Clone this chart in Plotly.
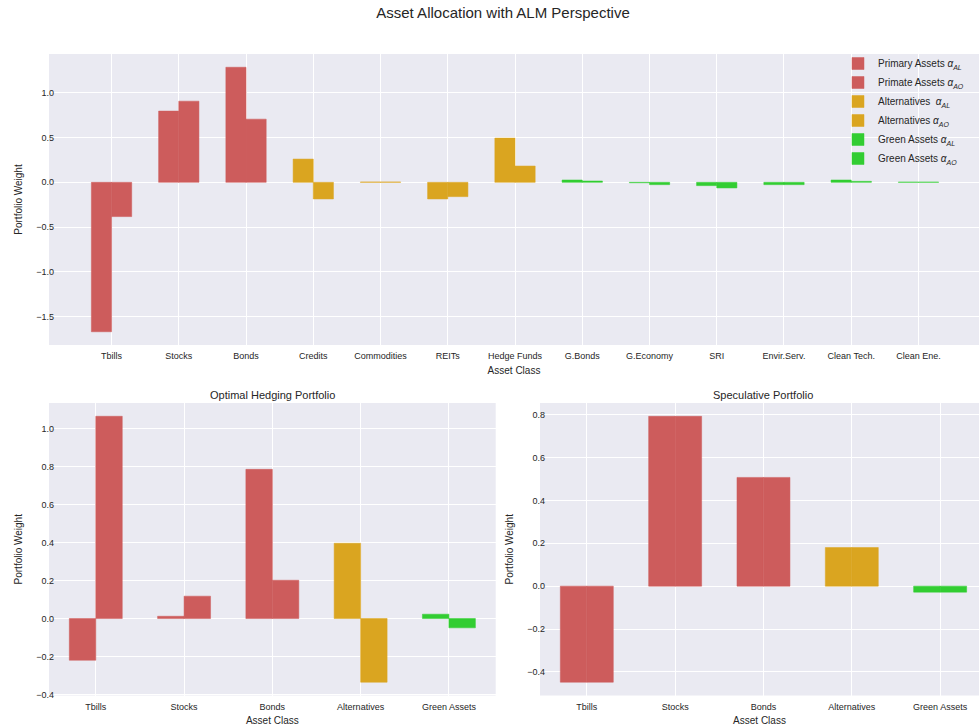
import plotly.graph_objects as go

# ---------------- data ----------------
top_categories = ["Tbills", "Stocks", "Bonds", "Credits", "Commodities", "REITs",
                  "Hedge Funds", "G.Bonds", "G.Economy", "SRI", "Envir.Serv.",
                  "Clean Tech.", "Clean Ene."]

primary_cats = ["Tbills", "Stocks", "Bonds"]
primary_al = [-1.67, 0.796, 1.286]
primary_ao = [-0.383, 0.907, 0.706]

alt_cats = ["Credits", "Commodities", "REITs", "Hedge Funds"]
alt_al = [0.26, 0.004, -0.186, 0.494]
alt_ao = [-0.186, 0.004, -0.16, 0.182]

green_cats = ["G.Bonds", "G.Economy", "SRI", "Envir.Serv.", "Clean Tech.", "Clean Ene."]
green_al = [0.026, -0.005, -0.037, -0.026, 0.026, 0.003]
green_ao = [0.015, -0.026, -0.063, -0.026, 0.011, 0.003]

group_categories = ["Tbills", "Stocks", "Bonds", "Alternatives", "Green Assets"]
hedge_al = [-0.22, 0.012, 0.787, 0.397, 0.023]
hedge_ao = [1.067, 0.118, 0.202, -0.336, -0.049]
spec_al = [-0.448, 0.792, 0.507, 0.18, -0.028]
spec_ao = [-0.448, 0.792, 0.507, 0.18, -0.028]

legend_names = [
    "Primary Assets <i>α<sub>AL</sub></i>",
    "Primate Assets <i>α<sub>AO</sub></i>",
    "Alternatives  <i>α<sub>AL</sub></i>",
    "Alternatives <i>α<sub>AO</sub></i>",
    "Green Assets <i>α<sub>AL</sub></i>",
    "Green Assets <i>α<sub>AO</sub></i>",
]

RED = "#CD5C5C"
GOLD = "#DAA520"
GREEN = "#32CD32"
group_colors = [RED, RED, RED, GOLD, GREEN]

# ---------------- figure ----------------
W, H = 979, 727
FONT = "Liberation Sans, Arial, sans-serif"
TXT = "#262626"
BG = "#EAEAF2"

fig = go.Figure()

W_BAR = 0.3

def add_pair(cats, al, ao, color, name_al, name_ao, xa, ya, showlegend=True, colors=None):
    c = colors if colors is not None else color
    fig.add_trace(go.Bar(x=cats, y=al, name=name_al,
                         marker=dict(color=c, line=dict(width=0.5, color=c)),
                         width=W_BAR, offset=-W_BAR, xaxis=xa, yaxis=ya, showlegend=showlegend))
    fig.add_trace(go.Bar(x=cats, y=ao, name=name_ao,
                         marker=dict(color=c, line=dict(width=0.5, color=c)),
                         width=W_BAR, offset=0, xaxis=xa, yaxis=ya, showlegend=showlegend))

add_pair(primary_cats, primary_al, primary_ao, RED, legend_names[0], legend_names[1], "x", "y")
add_pair(alt_cats, alt_al, alt_ao, GOLD, legend_names[2], legend_names[3], "x", "y")
add_pair(green_cats, green_al, green_ao, GREEN, legend_names[4], legend_names[5], "x", "y")
add_pair(group_categories, hedge_al, hedge_ao, None, "hedge AL", "hedge AO", "x2", "y2",
         showlegend=False, colors=group_colors)
add_pair(group_categories, spec_al, spec_ao, None, "spec AL", "spec AO", "x3", "y3",
         showlegend=False, colors=group_colors)

def px_x(p):
    return p / W

def px_y(p):
    return 1 - p / H

tickfont = dict(family=FONT, size=9, color=TXT)
titlefont = dict(family=FONT, size=10, color=TXT)

def xaxis(domain, anchor, cats, rng):
    return dict(domain=domain, anchor=anchor, type="category", categoryorder="array",
                categoryarray=cats, range=rng, showgrid=True, gridcolor="white", gridwidth=1,
                showline=False, zeroline=False, ticks="", tickfont=tickfont,
                ticklabelstandoff=4,
                title=dict(text="Asset Class", font=titlefont, standoff=6), automargin=False,
                fixedrange=True)

def yaxis(domain, position, rng, dtick):
    return dict(domain=domain, anchor="free", position=position, range=rng, dtick=dtick,
                showgrid=True, gridcolor="white", gridwidth=1, zeroline=True,
                zerolinecolor="white", zerolinewidth=1, showline=False, ticks="",
                tickfont=tickfont, tickformat=".1f",
                title=dict(text="Portfolio Weight", font=titlefont, standoff=10),
                automargin=False, fixedrange=True)

top_y = [px_y(345), px_y(54)]
bot_y = [px_y(695.5), px_y(403)]

fig.update_layout(
    width=W, height=H,
    margin=dict(l=0, r=0, t=0, b=0),
    paper_bgcolor="white",
    plot_bgcolor=BG,
    barmode="overlay",
    font=dict(family=FONT, color=TXT),
    title=dict(text="Asset Allocation with ALM Perspective", x=px_x(503), xanchor="center",
               y=px_y(13), yanchor="middle", font=dict(family=FONT, size=15, color=TXT)),
    xaxis=xaxis([px_x(49), 1.0], "y", top_categories, [-0.93, 12.9]),
    yaxis=yaxis(top_y, px_x(54), [-1.818, 1.434], 0.5),
    xaxis2=xaxis([px_x(49), px_x(495.7)], "y2", group_categories, [-0.53, 4.53]),
    yaxis2=yaxis(bot_y, px_x(54), [-0.406, 1.137], 0.2),
    xaxis3=xaxis([px_x(540), 1.0], "y3", group_categories, [-0.53, 4.44]),
    yaxis3=yaxis(bot_y, px_x(545), [-0.51, 0.854], 0.2),
    legend=dict(x=px_x(838), y=px_y(49), xanchor="left", yanchor="top",
                bgcolor="rgba(0,0,0,0)", borderwidth=0,
                font=dict(family=FONT, size=10, color=TXT), tracegroupgap=0),
    annotations=[
        dict(text="Optimal Hedging Portfolio", x=px_x(272), y=px_y(395), xref="paper",
             yref="paper", xanchor="center", yanchor="middle", showarrow=False,
             font=dict(family=FONT, size=11, color=TXT)),
        dict(text="Speculative Portfolio", x=px_x(763), y=px_y(395), xref="paper",
             yref="paper", xanchor="center", yanchor="middle", showarrow=False,
             font=dict(family=FONT, size=11, color=TXT)),
    ],
)

fig.write_html("out.html", config={"displayModeBar": False},
               post_script="document.body.style.margin='0';document.body.style.overflow='hidden';")
